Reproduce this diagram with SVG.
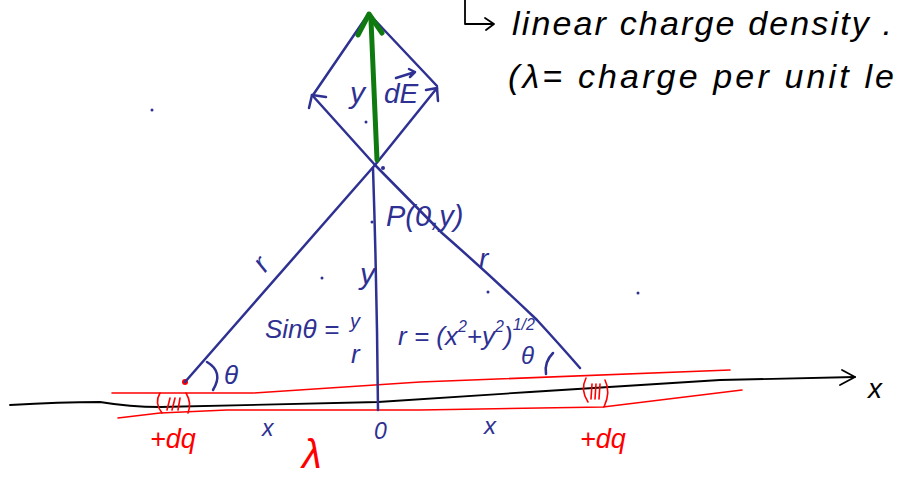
<svg xmlns="http://www.w3.org/2000/svg" width="898" height="487" viewBox="0 0 898 487">
<style>
.b{stroke:#2e3192;stroke-width:2.5;fill:none;stroke-linecap:round;stroke-linejoin:round}
.r{stroke:#ff0000;stroke-width:1.6;fill:none;stroke-linecap:round;stroke-linejoin:round}
.k{stroke:#000;stroke-width:1.8;fill:none;stroke-linecap:round;stroke-linejoin:round}
.g{stroke:#0f7a0f;stroke-width:5;fill:none;stroke-linecap:round;stroke-linejoin:round}
text{font-family:"Liberation Sans","DejaVu Sans",sans-serif;font-style:italic}
.tb{fill:#2e3192}
.tr{fill:#ff0000}
.tk{fill:#000}
</style>
<rect width="898" height="487" fill="#fff"/>

<!-- top note -->
<g id="note">
<path class="k" d="M465,0 L465,24 L493,24 M485,18 L494,24 L486,30"/>
<text class="tk" x="512" y="35" font-size="34" textLength="380" lengthAdjust="spacing">linear charge density .</text>
<text class="tk" x="508" y="88" font-size="34" textLength="386" lengthAdjust="spacing">(λ= charge per unit le</text>
</g>

<!-- axis -->
<g id="axis">
<path class="k" d="M10,405 Q60,402 100,402 Q130,407 160,407 L378,402 L530,392 L720,380 L855,377"/>
<path class="k" d="M842,370 L855,377 L840,385"/>
<text class="tk" x="868" y="398" font-size="28" font-style="normal">x</text>
</g>

<!-- charged line -->
<g id="line-charge">
<path class="r" d="M112,393 L253,393 L420,382 L730,370"/>
<path class="r" d="M118,418 L160,413 L227,410 L420,410 L603,407 L742,390"/>
<path class="r" d="M160,393 Q154,403 162,413 M186,393 Q192,403 188,413 M167,410 L170,398 M172,410 L175,398 M178,410 L180,398"/>
<path class="r" d="M586,378 Q580,390 588,402 M605,380 Q611,392 604,407 M591,399 L592,384 M595,399 L596,384 M599,399 L600,384"/>
<circle cx="185" cy="382" r="3" fill="#ff0000"/>
<text class="tr" x="150" y="448" font-size="27" font-style="normal">+dq</text>
<text class="tr" x="580" y="448" font-size="27" font-style="normal">+dq</text>
<text class="tr" x="302" y="468" font-size="40">λ</text>
</g>

<!-- geometry -->
<g id="geometry">
<path class="b" d="M185,382 L375,165 L437,88"/>
<path class="b" d="M312,95 L375,165 L442,233 Q490,275 537,320 Q560,345 580,368"/>
<path class="b" d="M373,168 Q377,290 378,410"/>
<path class="b" d="M309,108 L312,95 L326,97 M426,90 L437,88 L438,101"/>
<path class="b" d="M313,95 L367,16 M437,86 L371,16"/>
<path class="b" d="M207,362 Q224,372 213,390"/>
<path class="b" d="M553,353 Q544,362 546,374"/>
<text class="tb" x="224" y="384" font-size="26" font-style="normal">θ</text>
<text class="tb" x="521" y="364" font-size="24" font-style="normal">θ</text>
<text class="tb" x="262" y="436" font-size="23" font-style="normal">x</text>
<text class="tb" x="374" y="439" font-size="23" font-style="normal">0</text>
<text class="tb" x="484" y="434" font-size="24" font-style="normal">x</text>
<text class="tb" x="256" y="270" font-size="28" transform="rotate(-50 264 262)">r</text>
<text class="tb" x="479" y="268" font-size="28">r</text>
<text class="tb" x="360" y="284" font-size="30">y</text>
<text class="tb" x="386" y="226" font-size="29">P(0,y)</text>
<text class="tb" x="265" y="338" font-size="26">Sinθ =</text>
<text class="tb" x="350" y="328" font-size="20">y</text>
<text class="tb" x="351" y="363" font-size="26">r</text>
<text class="tb" x="398" y="345" font-size="26">r = (x<tspan font-size="16" dy="-13">2</tspan><tspan dy="13">+y</tspan><tspan font-size="16" dy="-13">2</tspan><tspan dy="13">)</tspan><tspan font-size="16" dy="-15">1/2</tspan></text>
<g fill="#2e3192">
<circle cx="152" cy="110" r="1.5"/><circle cx="322" cy="278" r="1.5"/><circle cx="372" cy="222" r="1.5"/>
<circle cx="488" cy="292" r="1.5"/><circle cx="638" cy="293" r="1.5"/><circle cx="366" cy="122" r="1.5"/><circle cx="383" cy="168" r="2"/>
</g>
</g>

<!-- field vector -->
<g id="field">
<path class="g" d="M377,160 L371,20"/>
<path class="g" d="M358,35 L369,14 L382,33"/>
<text class="tb" x="350" y="103" font-size="30">y</text>
<text class="tb" x="384" y="103" font-size="28">dE</text>
<path class="b" stroke-width="2" d="M396,78 L415,72 M409,69 L415,72 L410,77"/>
</g>
</svg>
